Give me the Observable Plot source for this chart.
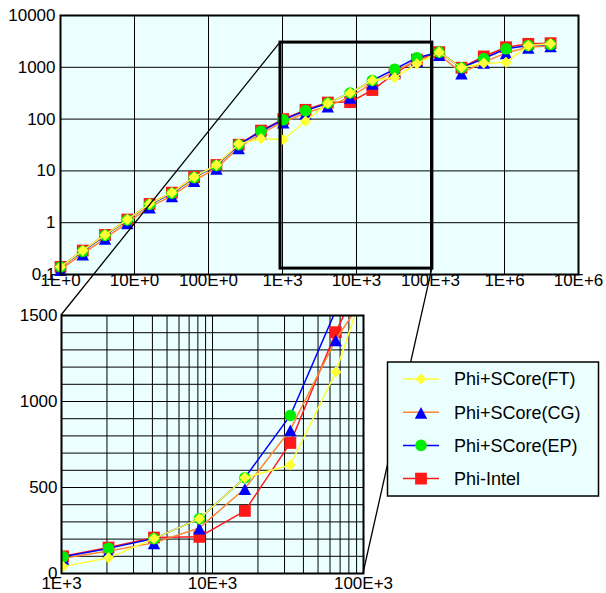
<!DOCTYPE html>
<html><head><meta charset="utf-8">
<script src="https://cdn.jsdelivr.net/npm/d3@7"></script>
<script src="https://cdn.jsdelivr.net/npm/@observablehq/plot@0.6"></script>
<style>
body{margin:0;background:#fff;}
#wrap{position:relative;width:606px;height:593px;font-family:"Liberation Sans",Arial,sans-serif;}
#wrap > svg{position:absolute;left:0;}
</style></head><body><div id="wrap"></div>
<script>
// ---- data ----
const sizes = [1,2,4,8,16,32,64,128,256,512,1024,2048,4096,8192,16384,32768,65536,131072,262144,524288,1048576,2097152,4194304];
const phiFT    = [0.14,0.29,0.58,1.15,2.3,3.8,7.6,13,33,42,40,91,203,319,557,631,1171,1960,980,1200,1250,2630,2840];
const phiCG    = [0.125,0.25,0.5,1.0,2.0,3.3,6.5,11.3,28,53,88,131,178,265,494,836,1359,1760,780,1250,1900,2450,2600];
const phiEP    = [0.14,0.28,0.57,1.13,2.25,3.7,7.4,12.7,32,58,97,146,203,319,557,919,1530,1960,980,1480,2275,2630,2750];
const phiIntel = [0.14,0.29,0.58,1.15,2.3,3.8,7.6,13,32,60,100,151,209,213,364,759,1403,1960,980,1620,2440,2840,2925];
const seriesNames = ["Phi+SCore(FT)","Phi+SCore(CG)","Phi+SCore(EP)","Phi-Intel"];

const topXTicks  = [1,10,100,1e3,1e4,1e5,1e6,1e7];
const topXLabels = ["1E+0","10E+0","100E+0","1E+3","10E+3","100E+3","1E+6","10E+6"];
const topYTicks  = [0.1,1,10,100,1000,10000];
const topYLabels = ["0.1","1","10","100","1000","10000"];
const botXTicks  = [1e3,1e4,1e5];
const botXLabels = ["1E+3","10E+3","100E+3"];
const botYTicks  = [0,500,1000,1500];
const botYLabels = ["0","500","1000","1500"];
// zoom window drawn on the upper chart (data coordinates)
const zoomBoxX = [940, 106000];
const zoomBoxY = [0.13, 3000];
const zoomDomainX = [1e3, 1e5];
const zoomDomainY = [0, 1500];

// ---- styles ----
const BG = "#ebffff";
const FONT = "Liberation Sans, Arial, Helvetica, sans-serif";
const sqSym  = {draw(c, s){ const r = Math.sqrt(s/Math.PI); c.rect(-r,-r,2*r,2*r); }};
const triSym = {draw(c, s){ const r = Math.sqrt(s/Math.PI); c.moveTo(0,-0.9*r); c.lineTo(1.05*r,1.1*r); c.lineTo(-1.05*r,1.1*r); c.closePath(); }};
const diaSym = {draw(c, s){ const r = Math.sqrt(s/Math.PI); c.moveTo(0,-r); c.lineTo(r,0); c.lineTo(0,r); c.lineTo(-r,0); c.closePath(); }};
const styleOf = {
  "Phi+SCore(FT)": {line:"#ffff33", fill:"#ffff33", symbol: diaSym, r:5.6},
  "Phi+SCore(CG)": {line:"#ff8533", fill:"#0000ff", symbol: triSym, r:5.9},
  "Phi+SCore(EP)": {line:"#0000ff", fill:"#00ee00", symbol: "circle", r:5.8},
  "Phi-Intel":     {line:"#ff1a1a", fill:"#ff1a1a", symbol: sqSym, r:5.9}
};
const valuesOf = {"Phi+SCore(FT)":phiFT,"Phi+SCore(CG)":phiCG,"Phi+SCore(EP)":phiEP,"Phi-Intel":phiIntel};
const drawOrder = ["Phi-Intel","Phi+SCore(CG)","Phi+SCore(EP)","Phi+SCore(FT)"];

function seriesMarks(filter, clip){
  const out = [];
  for (const name of drawOrder){
    const st = styleOf[name];
    const rows = sizes.map((x,i)=>({x, y: valuesOf[name][i]})).filter(filter);
    out.push(Plot.line(rows, {x:"x", y:"y", stroke: st.line, strokeWidth:1.5, clip}));
    out.push(Plot.dot(rows, {x:"x", y:"y", symbol: st.symbol, r: st.r, fill: st.fill, stroke:"none", clip}));
  }
  return out;
}
const fmt = (ticks, labels) => d => labels[ticks.indexOf(d)];

const topPlot = Plot.plot({
  width:606, height:300, marginLeft:60, marginRight:28, marginTop:15, marginBottom:26,
  style:{fontFamily:FONT, fontSize:"17px", background:"transparent", overflow:"visible", color:"black"},
  x:{type:"log", domain:[1,1e7], ticks: topXTicks, tickFormat: fmt(topXTicks, topXLabels), tickSize:0, tickPadding:-1, label:null},
  y:{type:"log", domain:[0.1,1e4], ticks: topYTicks, tickFormat: fmt(topYTicks, topYLabels), tickSize:0, tickPadding:5, label:null},
  marks:[
    Plot.frame({fill:BG, stroke:"none"}),
    Plot.ruleX(topXTicks, {stroke:"black", strokeWidth:1}),
    Plot.ruleY(topYTicks, {stroke:"black", strokeWidth:1}),
    ...seriesMarks(()=>true, false),
    Plot.rect([{x1:zoomBoxX[0], x2:zoomBoxX[1], y1:zoomBoxY[0], y2:zoomBoxY[1]}], {x1:"x1", x2:"x2", y1:"y1", y2:"y2", fill:"none", stroke:"black", strokeWidth:3}),
    Plot.frame({stroke:"black", strokeWidth:2})
  ]
});

const botGridX = [];
for (const p of [1e3,1e4]) for (let k=1;k<10;k++) botGridX.push(k*p);
botGridX.push(1e5);
const botGridY = d3.range(0, 1501, 100);

const botPlot = Plot.plot({
  width:606, height:293, marginLeft:61, marginRight:243, marginTop:15, marginBottom:20,
  style:{fontFamily:FONT, fontSize:"17px", background:"transparent", overflow:"visible", color:"black"},
  x:{type:"log", domain: zoomDomainX, ticks: botXTicks, tickFormat: fmt(botXTicks, botXLabels), tickSize:0, tickPadding:3, label:null},
  y:{domain: zoomDomainY, ticks: botYTicks, tickFormat: fmt(botYTicks, botYLabels), tickSize:0, tickPadding:4, label:null},
  marks:[
    Plot.frame({fill:BG, stroke:"none"}),
    Plot.ruleX(botGridX, {stroke:"black", strokeWidth:1}),
    Plot.ruleY(botGridY, {stroke:"black", strokeWidth:1}),
    ...seriesMarks(d => d.x >= 1000, true),
    Plot.frame({stroke:"black", strokeWidth:2})
  ]
});

const wrap = document.getElementById("wrap");
topPlot.style.top = "0px";
botPlot.style.top = "300px";
wrap.appendChild(topPlot);
wrap.appendChild(botPlot);

// overlay: connector lines and legend
const tx = topPlot.scale("x"), ty = topPlot.scale("y");
const bx = botPlot.scale("x"), by = botPlot.scale("y");
const BOT_OFF = 300;
const ov = d3.select(wrap).append("svg").attr("width",606).attr("height",593)
  .style("top","0px").style("pointer-events","none").style("font-family",FONT);
ov.append("line")
  .attr("x1", tx.apply(zoomBoxX[0])).attr("y1", ty.apply(zoomBoxY[1]))
  .attr("x2", bx.apply(zoomDomainX[0])).attr("y2", BOT_OFF + by.apply(zoomDomainY[1]))
  .attr("stroke","black").attr("stroke-width",1.3);
ov.append("line")
  .attr("x1", tx.apply(zoomBoxX[1])).attr("y1", ty.apply(zoomBoxY[0]))
  .attr("x2", bx.apply(zoomDomainX[1])).attr("y2", BOT_OFF + by.apply(zoomDomainY[0]))
  .attr("stroke","black").attr("stroke-width",1.3);

const lg = ov.append("g");
lg.append("rect").attr("x",387.5).attr("y",362).attr("width",211).attr("height",134)
  .attr("fill",BG).attr("stroke","black").attr("stroke-width",1.5);
seriesNames.forEach((name, i) => {
  const st = styleOf[name];
  const cy = 379 + i*33.2;
  lg.append("line").attr("x1",403).attr("x2",439).attr("y1",cy).attr("y2",cy)
    .attr("stroke",st.line).attr("stroke-width",1.5);
  if (st.symbol === "circle") {
    lg.append("circle").attr("cx",421).attr("cy",cy).attr("r",st.r).attr("fill",st.fill);
  } else {
    lg.append("path").attr("transform",`translate(421,${cy})`)
      .attr("d", d3.symbol(st.symbol, Math.PI*st.r*st.r)()).attr("fill",st.fill);
  }
  lg.append("text").attr("x",454).attr("y",cy).attr("dy","0.35em")
    .attr("font-size","18px").attr("fill","black").text(name);
});
</script>
</body></html>
